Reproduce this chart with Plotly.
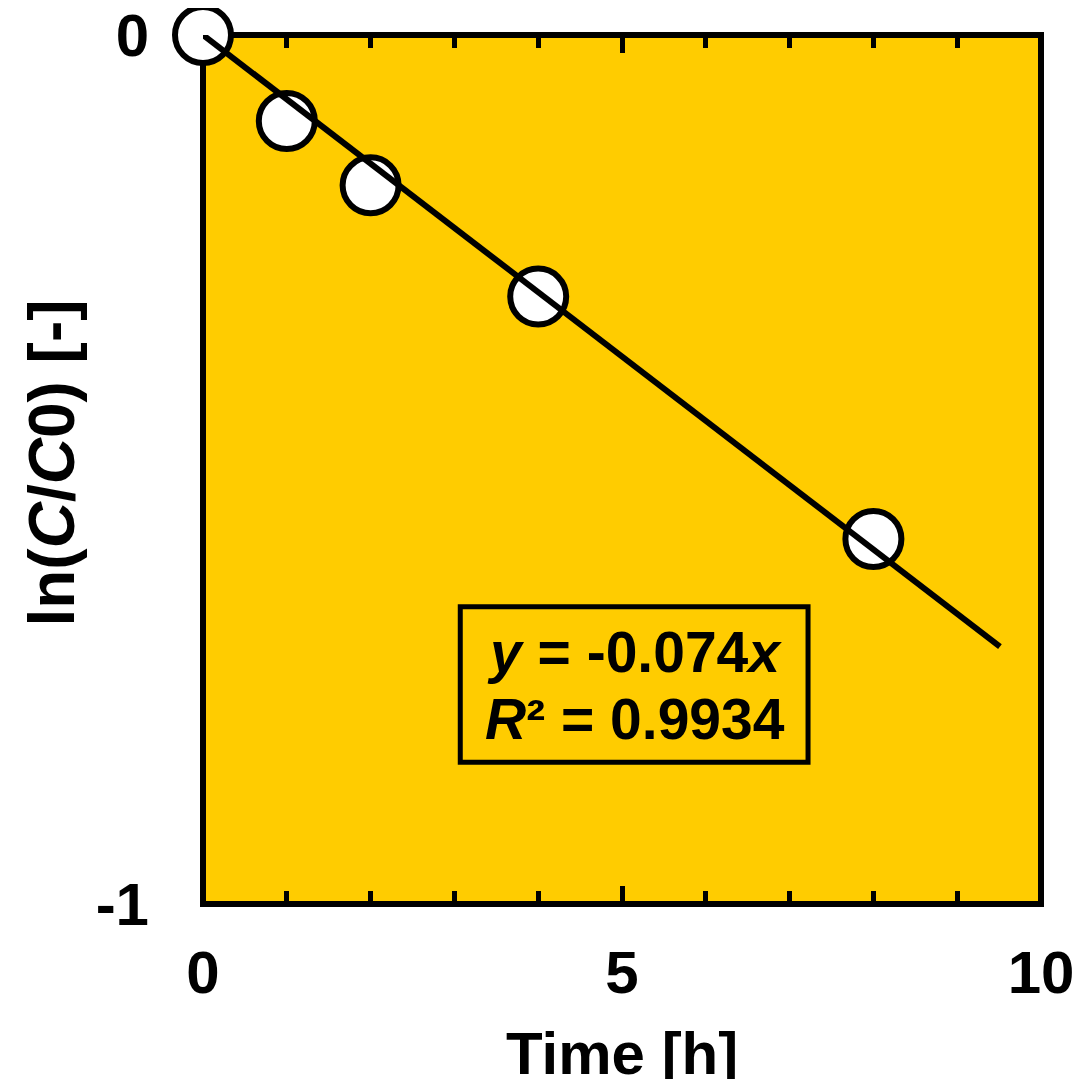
import plotly.graph_objects as go

# Data
time_h = [0, 1, 2, 4, 8]
ln_c_c0 = [0.0, -0.099, -0.173, -0.301, -0.580]
slope = -0.074
r2 = 0.9934
fit_x = [0, 9.51]
fit_y = [slope * x for x in fit_x]
x_tickvals = [0, 5, 10]
y_tickvals = [-1, 0]

FONT = "Liberation Sans, Arial, sans-serif"
BG = "#FFCC00"

fig = go.Figure()
fig.add_trace(go.Scatter(
    x=time_h, y=ln_c_c0, mode="markers",
    marker=dict(symbol="circle", size=56, color="white",
                line=dict(color="black", width=6)),
    cliponaxis=False, showlegend=False))
fig.add_trace(go.Scatter(
    x=fit_x, y=fit_y, mode="lines",
    line=dict(color="black", width=6),
    cliponaxis=False, showlegend=False, hoverinfo="skip"))

# frame (centered on plot edges)
fig.add_shape(type="rect", xref="paper", yref="paper", x0=0, x1=1, y0=0, y1=1,
              line=dict(color="black", width=6), fillcolor="rgba(0,0,0,0)", layer="below")

# equation box
fig.add_shape(type="rect", xref="x", yref="y",
              x0=3.07, x1=7.22, y0=-0.658, y1=-0.837,
              line=dict(color="black", width=5), fillcolor="rgba(0,0,0,0)")
eq_font = dict(family=FONT, size=57, color="black", weight="bold")
fig.add_annotation(x=5.155, y=-0.710, xref="x", yref="y",
                   text=f"<i>y</i> = {slope}<i>x</i>", showarrow=False,
                   font=eq_font, xanchor="center", yanchor="middle")
fig.add_annotation(x=5.155, y=-0.787, xref="x", yref="y",
                   text=f"<i>R</i>² = {r2}", showarrow=False,
                   font=eq_font, xanchor="center", yanchor="middle")

# axis titles
title_font = dict(family=FONT, size=60, color="black", weight="bold")
fig.add_annotation(x=0.5, y=0, xref="paper", yref="paper", xanchor="center", yanchor="top",
                   yshift=-114, text="Time [h]", showarrow=False, font=title_font)
fig.add_annotation(x=0, y=0.5, xref="paper", yref="paper", xanchor="center", yanchor="middle",
                   xshift=-152, yshift=6, textangle=-90,
                   text="ln(<i>C</i>/<i>C</i>0) [-]", showarrow=False,
                   font=dict(family=FONT, size=64, color="black", weight="bold"))

fig.update_layout(
    width=1074, height=1071,
    margin=dict(l=195, r=41, t=27, b=175),
    paper_bgcolor="white", plot_bgcolor=BG,
    font=dict(family=FONT, color="black"),
)
fig.update_xaxes(
    range=[0, 10], tickvals=x_tickvals, ticktext=[str(v) for v in x_tickvals],
    showgrid=False, zeroline=False, automargin=False,
    showline=False, mirror="ticks",
    ticks="inside", ticklen=18, tickwidth=5, tickcolor="black",
    minor=dict(dtick=1, ticks="inside", ticklen=13, tickwidth=5, tickcolor="black", showgrid=False),
    tickfont=dict(family=FONT, size=60, color="black", weight="bold"),
    ticklabelstandoff=28, ticklabeloverflow="allow",
)
fig.update_yaxes(
    range=[-1, 0], tickvals=y_tickvals, ticktext=["-1", "0"],
    showgrid=False, zeroline=False, automargin=False,
    showline=False, ticks="",
    tickfont=dict(family=FONT, size=60, color="black", weight="bold"),
    ticklabelstandoff=53, ticklabeloverflow="allow",
)

fig.write_html("out.html")
